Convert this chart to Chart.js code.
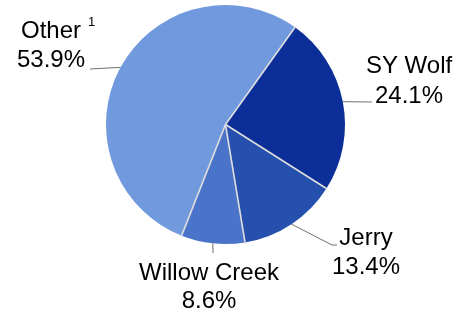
<!DOCTYPE html>
<html>
<head>
<meta charset="utf-8">
<script src="https://cdn.jsdelivr.net/npm/chart.js@4"></script>
<style>
    html, body { margin: 0; padding: 0; background: #fff; }
    #wrap { width: 462px; height: 312px; position: relative; }
</style>
</head>
<body>
<div id="wrap"><canvas id="grafica-pie"></canvas></div>
<script>
// #region Datos
let categorias = ["SY Wolf", "Jerry", "Willow Creek", "Other"]
let porcentajes = [24.1, 13.4, 8.6, 53.9]
let etiquetas = ["24.1%", "13.4%", "8.6%", "53.9%"]
let colores = ["#0b2e98", "#2550ad", "#4a74c9", "#7199dd"]

// posicion de cada etiqueta (fin de la linea guia y texto)
let estiloEtiquetas = [
    { fin: [[372, 102]], x: 409, y1: 73, y2: 103 },
    { fin: [[332, 245], [337, 245]], x: 366, y1: 245, y2: 274 },
    { fin: [[213, 253]], x: 209, y1: 280, y2: 308 },
    { fin: [[90, 69]], x: 51, y1: 38, y2: 67, sup: "1" }
]

// #region Plugin etiquetas
var etiquetasPlugin = {
    id: "etiquetas",
    afterDatasetsDraw: function (chart) {
        var ctx = chart.ctx
        var arcos = chart.getDatasetMeta(0).data
        ctx.save()
        // lineas separadoras entre porciones (sin borde exterior)
        ctx.strokeStyle = "#dedede"
        ctx.lineWidth = 1.6
        for (let i = 0; i < arcos.length; i++) {
            var s = arcos[i].getProps(["x", "y", "startAngle", "outerRadius"], true)
            ctx.beginPath()
            ctx.moveTo(s.x, s.y)
            ctx.lineTo(s.x + Math.cos(s.startAngle) * s.outerRadius, s.y + Math.sin(s.startAngle) * s.outerRadius)
            ctx.stroke()
        }
        for (let i = 0; i < arcos.length; i++) {
            var a = arcos[i].getProps(["x", "y", "startAngle", "endAngle", "outerRadius"], true)
            var medio = (a.startAngle + a.endAngle) / 2
            var px = a.x + Math.cos(medio) * a.outerRadius
            var py = a.y + Math.sin(medio) * a.outerRadius
            var e = estiloEtiquetas[i]
            ctx.strokeStyle = "#707070"
            ctx.lineWidth = 1
            ctx.beginPath()
            ctx.moveTo(px, py)
            for (let j = 0; j < e.fin.length; j++) {
                ctx.lineTo(e.fin[j][0], e.fin[j][1])
            }
            ctx.stroke()

            ctx.fillStyle = "#000"
            ctx.textAlign = "center"
            ctx.textBaseline = "alphabetic"
            ctx.font = "24px 'Liberation Sans', Arial, sans-serif"
            ctx.fillText(categorias[i], e.x, e.y1)
            ctx.fillText(etiquetas[i], e.x, e.y2)
            if (e.sup) {
                var w = ctx.measureText(categorias[i]).width
                ctx.font = "13px 'Liberation Sans', Arial, sans-serif"
                ctx.textAlign = "left"
                ctx.fillText(e.sup, e.x + w / 2 + 7, e.y1 - 12)
            }
        }
        ctx.restore()
    }
}

// #region Grafica
var pie = document.getElementById("grafica-pie").getContext("2d")
var graficaPie = new Chart(pie, {
    type: "pie",
    data: {
        labels: categorias,
        datasets: [
            {
                data: porcentajes,
                backgroundColor: colores,
                borderWidth: 0,
            },
        ],
    },
    options: {
        responsive: true,
        maintainAspectRatio: false,
        animation: false,
        rotation: 35.6,
        layout: {
            padding: { top: 5, bottom: 68, left: 0, right: 11 }
        },
        plugins: {
            legend: { display: false },
            tooltip: { enabled: false }
        }
    },
    plugins: [etiquetasPlugin]
})
</script>
</body>
</html>
